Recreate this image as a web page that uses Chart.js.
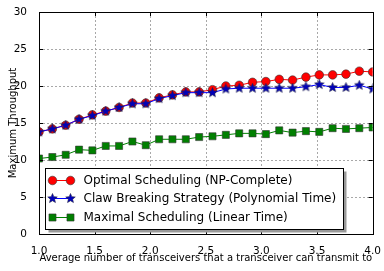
<!DOCTYPE html>
<html>
<head>
<meta charset="utf-8">
<script src="https://cdn.jsdelivr.net/npm/chart.js@4.4.0/dist/chart.umd.min.js"></script>
<style>
	html, body { margin: 0; padding: 0; background: #fff; }
	#wrap { width: 384px; height: 271px; position: relative; }
</style>
</head>
<body>
<div id="wrap"><canvas id="myChart" width="384" height="271"></canvas></div>
<script>
let ctx = document.getElementById("myChart").getContext("2d")

// x positions (average number of transceivers)
let xValues = [1.00, 1.12, 1.24, 1.36, 1.48, 1.60, 1.72, 1.84, 1.96, 2.08, 2.20, 2.32, 2.44,
	2.56, 2.68, 2.80, 2.92, 3.04, 3.16, 3.28, 3.40, 3.52, 3.64, 3.76, 3.88, 4.00]

let optimal = [13.8, 14.2, 14.7, 15.5, 16.1, 16.6, 17.1, 17.7, 17.7, 18.4, 18.8, 19.2, 19.2,
	19.5, 20.0, 20.1, 20.5, 20.6, 20.9, 20.8, 21.2, 21.5, 21.5, 21.6, 22.0, 21.9]
let claw = [13.8, 14.2, 14.7, 15.5, 16.0, 16.6, 17.1, 17.6, 17.6, 18.3, 18.7, 19.1, 19.1,
	19.1, 19.6, 19.7, 19.7, 19.7, 19.7, 19.7, 19.9, 20.2, 19.8, 19.8, 20.1, 19.6]
let maximal = [10.2, 10.4, 10.7, 11.4, 11.3, 11.9, 11.9, 12.5, 12.0, 12.8, 12.8, 12.8, 13.1,
	13.2, 13.4, 13.6, 13.6, 13.5, 14.0, 13.7, 13.9, 13.8, 14.3, 14.2, 14.3, 14.4]

let seriesLabels = [
	"Optimal Scheduling (NP-Complete)",
	"Claw Breaking Strategy (Polynomial Time)",
	"Maximal Scheduling (Linear Time)",
]

let yTicks = [0, 5, 10, 15, 20, 25, 30]
let xTicks = [1, 1.5, 2, 2.5, 3, 3.5, 4]

let fontFamily = "'DejaVu Sans', sans-serif"

// filled star marker image
function makeStar(size, fill, edge) {
	let c = document.createElement("canvas")
	c.width = size
	c.height = size
	let g = c.getContext("2d")
	let cx = size / 2, cy = size / 2
	let outer = size / 2 - 0.5, inner = outer * 0.45
	g.beginPath()
	for (let i = 0; i < 10; i++) {
		let r = i % 2 == 0 ? outer : inner
		let a = -Math.PI / 2 + i * Math.PI / 5
		let px = cx + r * Math.cos(a), py = cy + r * Math.sin(a)
		if (i == 0) g.moveTo(px, py)
		else g.lineTo(px, py)
	}
	g.closePath()
	g.fillStyle = fill
	g.fill()
	g.lineWidth = 0.6
	g.strokeStyle = edge
	g.stroke()
	return c
}
let starImg = makeStar(11, "#0000bb", "#222244")

function toPoints(values) {
	return values.map((v, i) => ({x: xValues[i], y: v}))
}

let datasets = [
	{
		label: seriesLabels[0], data: toPoints(optimal), order: 2,
		borderColor: "#ff0000", borderWidth: 1,
		pointStyle: "circle", pointRadius: 4.3, pointBackgroundColor: "#ff0000",
		pointBorderColor: "#333333", pointBorderWidth: 0.6,
	},
	{
		label: seriesLabels[1], data: toPoints(claw), order: 1,
		borderColor: "#0000ff", borderWidth: 1,
		pointStyle: starImg, pointRadius: 5,
	},
	{
		label: seriesLabels[2], data: toPoints(maximal), order: 3,
		borderColor: "#008000", borderWidth: 1,
		pointStyle: "rect", pointRadius: 5, pointBackgroundColor: "#008000",
		pointBorderColor: "#333333", pointBorderWidth: 0.6,
	},
]

// dashed grid drawn under the lines
let gridPlugin = {
	id: "dashgrid",
	beforeDatasetsDraw(chart) {
		let {ctx, chartArea: a, scales} = chart
		ctx.save()
		ctx.strokeStyle = "#a8a8a8"
		ctx.lineWidth = 1
		ctx.setLineDash([2, 2])
		ctx.beginPath()
		yTicks.forEach(v => {
			let y = Math.round(scales.y.getPixelForValue(v)) + 0.5
			ctx.moveTo(a.left, y); ctx.lineTo(a.right, y)
		})
		xTicks.forEach(v => {
			let x = Math.round(scales.x.getPixelForValue(v)) + 0.5
			ctx.moveTo(x, a.top); ctx.lineTo(x, a.bottom)
		})
		ctx.stroke()
		ctx.restore()
	}
}

// frame, inward ticks and legend box like the original figure
let framePlugin = {
	id: "frame",
	afterDatasetsDraw(chart) {
		let {ctx, chartArea: a, scales} = chart
		ctx.save()
		ctx.strokeStyle = "#000"
		ctx.lineWidth = 1
		ctx.beginPath()
		yTicks.forEach(v => {
			let y = Math.round(scales.y.getPixelForValue(v)) + 0.5
			ctx.moveTo(a.left, y); ctx.lineTo(a.left + 4, y)
			ctx.moveTo(a.right, y); ctx.lineTo(a.right - 4, y)
		})
		xTicks.forEach(v => {
			let x = Math.round(scales.x.getPixelForValue(v)) + 0.5
			ctx.moveTo(x, a.bottom); ctx.lineTo(x, a.bottom - 4)
			ctx.moveTo(x, a.top); ctx.lineTo(x, a.top + 4)
		})
		ctx.stroke()
		ctx.strokeRect(Math.round(a.left) + 0.5, Math.round(a.top) + 0.5,
			Math.round(a.right - a.left), Math.round(a.bottom - a.top))

		// legend
		let lx = a.left + 6.5, ly = a.top + 156.5, lw = 298, lh = 61
		ctx.fillStyle = "#999999"
		ctx.fillRect(lx + 3, ly + 3, lw, lh)
		ctx.fillStyle = "#ffffff"
		ctx.fillRect(lx, ly, lw, lh)
		ctx.strokeStyle = "#000"
		ctx.strokeRect(lx, ly, lw, lh)

		ctx.font = "12px " + fontFamily
		ctx.textBaseline = "middle"
		ctx.textAlign = "left"
		let rows = [ly + 12, ly + 30, ly + 49]
		chart.data.datasets.forEach((ds, i) => {
			let ry = rows[i]
			let x0 = lx + 7, x1 = lx + 25
			ctx.strokeStyle = ds.borderColor
			ctx.lineWidth = 1
			ctx.beginPath()
			ctx.moveTo(x0, ry); ctx.lineTo(x1, ry)
			ctx.stroke();
			[x0, x1].forEach(px => {
				if (typeof ds.pointStyle == "string") {
					ctx.fillStyle = ds.pointBackgroundColor
					ctx.strokeStyle = ds.pointBorderColor
					ctx.lineWidth = ds.pointBorderWidth
					ctx.beginPath()
					if (ds.pointStyle == "circle") ctx.arc(px, ry, ds.pointRadius, 0, Math.PI * 2)
					else {
						let s = ds.pointRadius * Math.SQRT1_2
						ctx.rect(px - s, ry - s, 2 * s, 2 * s)
					}
					ctx.fill()
					ctx.stroke()
				} else {
					let img = ds.pointStyle
					ctx.drawImage(img, px - img.width / 2, ry - img.height / 2)
				}
			})
			ctx.fillStyle = "#000"
			ctx.fillText(ds.label, lx + 38, ry + 0.5)
		})
		ctx.restore()
	}
}

let config = {
	type: "line",
	data: {datasets: datasets},
	plugins: [gridPlugin, framePlugin],
	options: {
		responsive: false,
		animation: false,
		layout: {padding: {top: 12, right: 10, left: 0, bottom: 0}},
		plugins: {
			legend: {display: false},
			tooltip: {enabled: false},
		},
		scales: {
			x: {
				type: "linear",
				min: 1,
				max: 4,
				afterBuildTicks: scale => { scale.ticks = xTicks.map(v => ({value: v})) },
				afterFit: scale => { scale.height = 37 },
				grid: {display: false},
				border: {display: false},
				ticks: {color: "#000", padding: 3, font: {size: 10.5, family: fontFamily}, maxRotation: 0},
				title: {
					display: true,
					text: "Average number of transceivers that a transceiver can transmit to",
					color: "#000",
					font: {size: 10, family: fontFamily},
					padding: {top: 0, bottom: 7},
				},
			},
			y: {
				min: 0,
				max: 30,
				afterBuildTicks: scale => { scale.ticks = yTicks.map(v => ({value: v})) },
				afterFit: scale => { scale.width = 39 },
				grid: {display: false},
				border: {display: false},
				ticks: {color: "#000", padding: 4, font: {size: 10.5, family: fontFamily}},
				title: {
					display: true,
					text: "Maximum Throughput",
					color: "#000",
					font: {size: 10, family: fontFamily},
					padding: {top: 7, bottom: 0},
				},
			},
		},
	},
}

let chart = new Chart(ctx, config)
</script>
</body>
</html>
